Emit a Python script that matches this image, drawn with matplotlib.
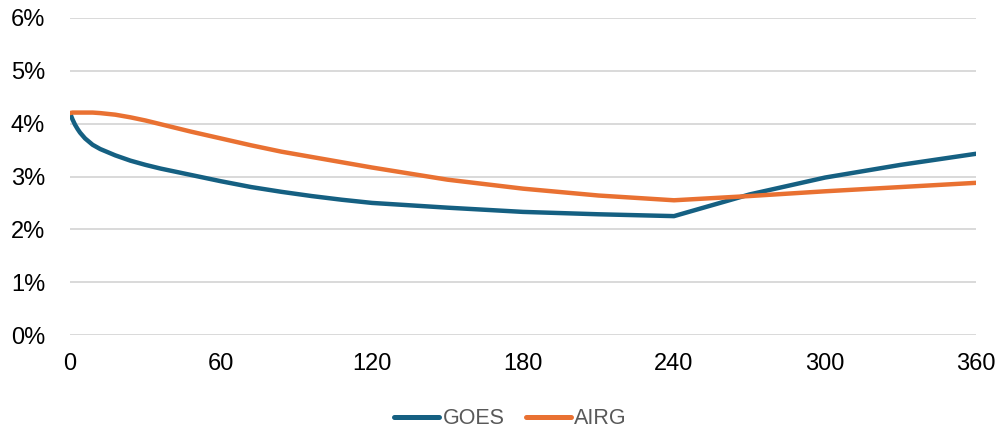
import matplotlib
matplotlib.use("Agg")
import matplotlib.pyplot as plt
from matplotlib.ticker import FuncFormatter

months = [0, 1, 2, 3, 4, 6, 9, 12, 18, 24, 30, 36, 48, 60, 72, 84, 96, 108, 120, 150, 180, 210, 240, 270, 300, 330, 360]
goes = [4.20, 4.08, 3.98, 3.90, 3.83, 3.72, 3.60, 3.52, 3.40, 3.30, 3.22, 3.15, 3.03, 2.91, 2.80, 2.71, 2.63, 2.56, 2.50, 2.41, 2.33, 2.285, 2.25, 2.66, 2.98, 3.22, 3.43]
airg = [4.20, 4.21, 4.21, 4.21, 4.21, 4.21, 4.21, 4.20, 4.17, 4.12, 4.06, 3.99, 3.85, 3.72, 3.59, 3.47, 3.37, 3.27, 3.17, 2.94, 2.77, 2.64, 2.55, 2.63, 2.72, 2.80, 2.88]
x_ticks = [0, 60, 120, 180, 240, 300, 360]
y_ticks = [0, 1, 2, 3, 4, 5, 6]

plt.rcParams['font.family'] = ['Liberation Sans', 'DejaVu Sans']

fig = plt.figure(figsize=(9.97, 4.33), dpi=100)
ax = fig.add_axes([70/997, 1-335/433, (976-70)/997, (335-18)/433])

ax.plot(months, goes, color='#156082', lw=3.2, solid_capstyle='round', solid_joinstyle='round', label='GOES', zorder=3)
ax.plot(months, airg, color='#E97132', lw=3.2, solid_capstyle='round', solid_joinstyle='round', label='AIRG', zorder=3)

ax.set_xlim(0, 360)
ax.set_ylim(0, 6)
ax.set_xticks(x_ticks)
ax.set_yticks(y_ticks)
ax.yaxis.set_major_formatter(FuncFormatter(lambda v, p: f"{int(v)}%"))
ax.grid(axis='y', color='#D9D9D9', lw=1.4, zorder=0)
ax.grid(axis='x', visible=False)
for s in ax.spines.values():
    s.set_visible(False)
ax.tick_params(axis='both', length=0, labelsize=17, colors='#000000')
ax.tick_params(axis='x', pad=13)
ax.tick_params(axis='y', pad=18)

leg = fig.legend(loc='center', bbox_to_anchor=(0.512, 0.033), ncol=2, frameon=False,
                 fontsize=15.5, handlelength=2.1, handletextpad=0.15, columnspacing=1.0)
for t in leg.get_texts():
    t.set_color('#595959')
for l in leg.get_lines():
    l.set_linewidth(3.6)

fig.savefig('out.png', dpi=100)
